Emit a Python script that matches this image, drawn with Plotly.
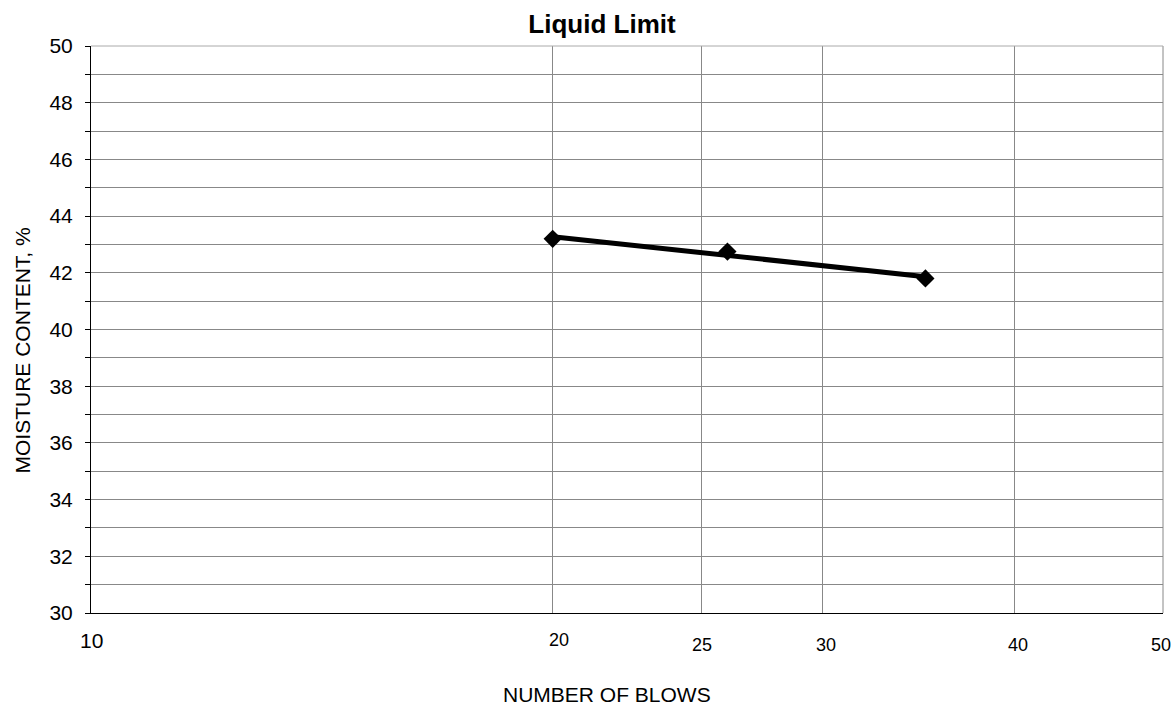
import numpy as np
import plotly.graph_objects as go

blows = [20, 26, 35]
moisture = [43.2, 42.75, 41.8]
x_ticks = [10, 20, 25, 30, 40, 50]
x_tick_labels = ["10", "20", "25", "30", "40", "50"]
y_ticks = list(range(30, 51, 2))

# logarithmic trend line through the points
coef = np.polyfit(np.log10(blows), moisture, 1)
trend_x = np.array([min(blows), max(blows)])
trend_y = coef[0] * np.log10(trend_x) + coef[1]

fig = go.Figure()
fig.add_trace(go.Scatter(x=trend_x, y=trend_y, mode="lines",
                         line=dict(color="black", width=5), showlegend=False))
fig.add_trace(go.Scatter(x=blows, y=moisture, mode="markers",
                         marker=dict(symbol="diamond", size=14, color="black"),
                         showlegend=False))

font = "Liberation Sans, Arial, sans-serif"
grid = "#888888"
fig.update_layout(
    width=1173, height=706,
    margin=dict(l=91, r=10, t=46, b=93),
    plot_bgcolor="white", paper_bgcolor="white",
    font=dict(family=font, color="black"),
    title=dict(text="<b>Liquid Limit</b>", xref="paper", x=0.4767, xanchor="center",
               yref="container", y=1 - 24 / 706, yanchor="middle", font=dict(size=26)),
    xaxis=dict(type="log", range=[np.log10(10), np.log10(50)],
               tickvals=x_ticks, showticklabels=False, ticks="",
               showgrid=True, gridcolor=grid, gridwidth=1,
               showline=True, linecolor="black", linewidth=1,
               zeroline=False),
    yaxis=dict(range=[30, 50], tickvals=y_ticks,
               tickfont=dict(size=21), ticks="outside", ticklen=5,
               tickcolor="black", ticklabelstandoff=8,
               minor=dict(dtick=1, showgrid=True, gridcolor=grid,
                          ticks="outside", ticklen=5, tickcolor="black"),
               showgrid=True, gridcolor=grid, gridwidth=1,
               showline=True, linecolor="black", linewidth=1,
               zeroline=False),
)

# x tick labels (individual offsets/sizes as in reference)
x_shift = [0, 6, 1, 3, 4, -2]
y_shift = [-27, -27, -32, -32, -32, -32]
sizes = [21, 18, 18, 18, 18, 18]
for v, lab, dx, dy, s in zip(x_ticks, x_tick_labels, x_shift, y_shift, sizes):
    fig.add_annotation(x=np.log10(v), xref="x", y=0, yref="paper", text=lab,
                       showarrow=False, xanchor="center", yanchor="middle",
                       xshift=dx, yshift=dy, font=dict(size=s))

fig.add_annotation(x=0.481, xref="paper", y=0, yref="paper", text="NUMBER OF BLOWS",
                   showarrow=False, xanchor="center", yanchor="middle",
                   yshift=-81, borderpad=0, font=dict(size=21))
fig.add_annotation(x=0, xref="paper", y=0.5, yref="paper", text="MOISTURE CONTENT, %",
                   showarrow=False, xanchor="center", yanchor="middle", textangle=-90,
                   xshift=-69, yshift=-21, font=dict(size=21))

fig.add_shape(type="line", xref="paper", yref="paper", x0=1, x1=1, y0=0, y1=1,
              line=dict(color=grid, width=1))
fig.add_shape(type="line", xref="paper", yref="paper", x0=0, x1=1, y0=1, y1=1,
              line=dict(color="#aaaaaa", width=1))

fig.write_html("out.html", config={"displayModeBar": False},
               post_script="document.body.style.margin='0';"
                           "document.body.style.overflow='hidden';")
